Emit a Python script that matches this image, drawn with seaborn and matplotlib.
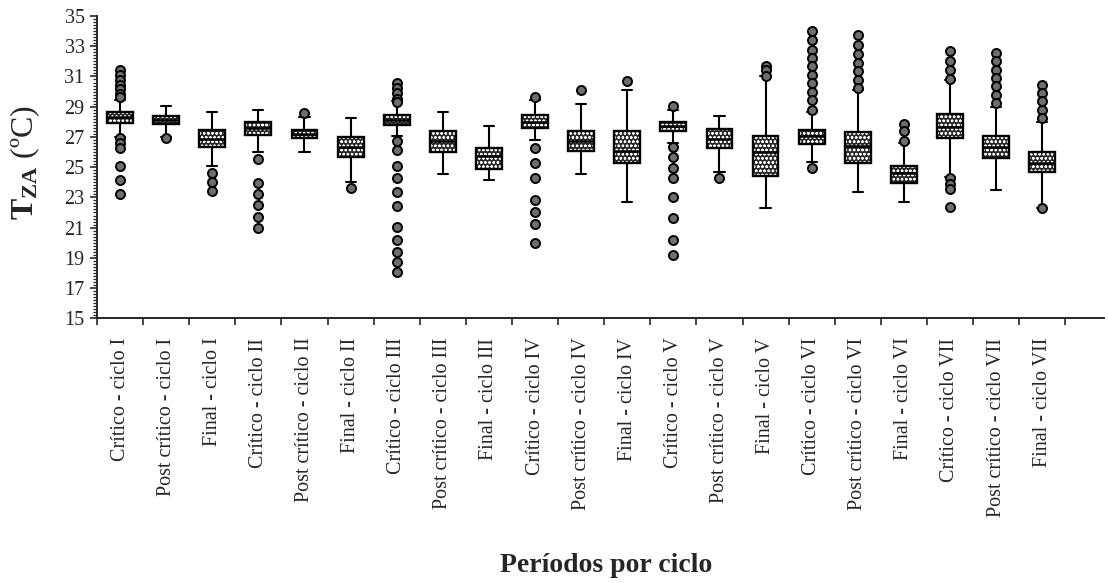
import numpy as np
import matplotlib
matplotlib.use("Agg")
import matplotlib.pyplot as plt
import seaborn as sns

# Periodos y estadisticos
periodos = [
    "Crítico - ciclo I", "Post crítico - ciclo I", "Final - ciclo I",
    "Crítico - ciclo II", "Post crítico - ciclo II", "Final - ciclo II",
    "Crítico - ciclo III", "Post crítico - ciclo III", "Final - ciclo III",
    "Crítico - ciclo IV", "Post crítico - ciclo IV", "Final - ciclo IV",
    "Crítico - ciclo V", "Post crítico - ciclo V", "Final - ciclo V",
    "Crítico - ciclo VI", "Post crítico - ciclo VI", "Final - ciclo VI",
    "Crítico - ciclo VII", "Post crítico - ciclo VII", "Final - ciclo VII",
]

bigote_inf = [27.0, 27.0, 25.1, 25.97, 25.99, 24.05, 27.07, 24.56, 24.16, 26.81, 24.56,
              22.68, 26.59, 24.67, 22.28, 25.33, 23.34, 22.68, 24.38, 23.5, 22.28]
q1 = [27.95, 27.85, 26.36, 27.14, 26.92, 25.7, 27.8, 25.97, 24.89, 27.58, 26.1,
      25.3, 27.4, 26.26, 24.42, 26.52, 25.3, 23.98, 26.92, 25.6, 24.67]
mediana = [28.3, 28.09, 26.85, 27.62, 27.19, 26.34, 28.13, 26.7, 25.75, 27.98, 26.74,
           26.1, 27.71, 26.87, 26.03, 27.03, 26.43, 24.6, 27.65, 26.36, 25.26]
q3 = [28.68, 28.4, 27.47, 28.02, 27.47, 26.99, 28.46, 27.36, 26.3, 28.42, 27.36,
      27.36, 28.02, 27.51, 27.07, 27.47, 27.32, 25.1, 28.53, 27.07, 25.99]
bigote_sup = [29.45, 29.06, 28.62, 28.79, 28.35, 28.28, 29.35, 28.66, 27.73, 29.45, 29.19,
              30.12, 28.79, 28.4, 31.0, 28.68, 30.12, 26.59, 30.78, 29.01, 28.02]

atipicos = [
    [31.4, 31.11, 30.78, 30.45, 30.17, 29.83, 29.64, 26.92, 26.63, 26.26, 25.1, 24.16, 23.21],
    [26.92],
    [24.6, 24.05, 23.45],
    [25.55, 23.94, 23.21, 22.5, 21.73, 20.96],
    [28.57],
    [23.6],
    [30.6, 30.23, 29.9, 29.52, 29.28, 26.7, 26.15, 25.1, 24.31, 23.34, 22.44,
     21.07, 20.19, 19.41, 18.71, 18.05],
    [],
    [],
    [29.61, 26.3, 25.3, 24.27, 22.83, 22.06, 21.24, 20.0],
    [30.12],
    [30.67],
    [29.06, 26.36, 25.7, 24.93, 24.27, 23.05, 21.62, 20.19, 19.19],
    [24.27],
    [31.66, 31.4, 31.05],
    [34.0, 33.43, 32.77, 32.22, 31.66, 31.11, 30.56, 30.0, 29.45, 28.79, 24.93],
    [33.76, 33.1, 32.5, 31.89, 31.33, 30.74, 30.23],
    [27.87, 27.36, 26.7],
    [32.66, 31.99, 31.4, 30.85, 24.27, 23.9, 23.54, 22.39],
    [32.55, 31.99, 31.45, 30.9, 30.34, 29.79, 29.24],
    [30.45, 29.9, 29.35, 28.79, 28.24, 22.28],
]

sns.set_style("ticks")
plt.rcParams["font.family"] = ["Liberation Serif", "DejaVu Serif"]
plt.rcParams["mathtext.fontset"] = "custom"
plt.rcParams["mathtext.rm"] = "Liberation Serif"
plt.rcParams["mathtext.bf"] = "Liberation Serif:bold"
plt.rcParams["hatch.linewidth"] = 0.6

stats = []
for i in range(len(periodos)):
    stats.append(dict(label=periodos[i], whislo=bigote_inf[i], q1=q1[i], med=mediana[i],
                      q3=q3[i], whishi=bigote_sup[i], fliers=atipicos[i]))

fig = plt.figure(figsize=(11.08, 5.83), dpi=100)
ax = fig.add_axes([97 / 1108, 264.7 / 583, 1007 / 1108, 302.3 / 583])

res = ax.bxp(stats, positions=np.arange(len(periodos)), widths=0.56, capwidths=0.22,
             patch_artist=True, manage_ticks=False,
             boxprops=dict(facecolor="#2a2a2a", edgecolor="black", linewidth=1.7),
             whiskerprops=dict(color="black", linewidth=1.5),
             capprops=dict(color="black", linewidth=1.5),
             medianprops=dict(color="black", linewidth=1.8),
             flierprops=dict(marker="o", markersize=6.5, markerfacecolor="#6e6e6e",
                             markeredgecolor="black", markeredgewidth=1.4))

# trama de puntos blancos sobre fondo oscuro
for caja in res["boxes"]:
    caja.set_hatch("oooo")
    caja._hatch_color = (1, 1, 1, 1)

ax.set_xlim(-0.5, 21.34)
ax.set_ylim(15, 35)
ax.set_yticks(np.arange(15, 36, 2))
ax.set_yticks(np.arange(15, 35.01, 0.2), minor=True)
ax.tick_params(axis="y", which="major", labelsize=14.5, length=5, width=1.2, pad=4)
ax.tick_params(axis="y", which="minor", length=3, width=0.9)

ax.set_xticks(np.arange(len(periodos)))
ax.set_xticklabels(periodos, rotation=90, fontsize=14.5)
ax.set_xticks(np.arange(-0.5, 21, 1), minor=True)
ax.tick_params(axis="x", which="major", length=0, pad=14)
ax.tick_params(axis="x", which="minor", length=5, width=1.2)

for lado in ["left", "bottom"]:
    ax.spines[lado].set_linewidth(1.4)
sns.despine(ax=ax)

ax.set_ylabel(r"$\mathbf{T_{ZA}}$ (ºC)", fontsize=23)
ax.yaxis.set_label_coords(-0.0546, 0.515)
ax.set_xlabel("Períodos por ciclo", fontsize=20, fontweight="bold")
ax.xaxis.set_label_coords(0.5055, -0.776)

fig.savefig("out.png", dpi=100)
